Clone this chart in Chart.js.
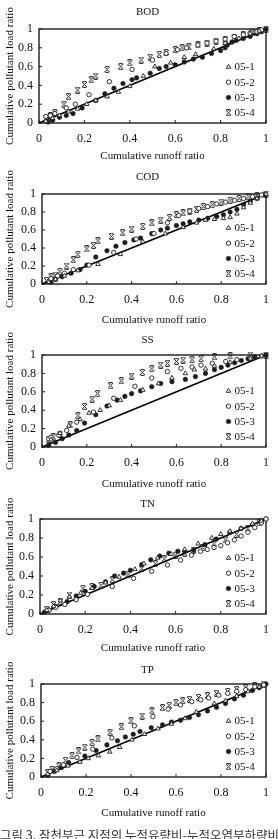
<!DOCTYPE html>
<html>
<head>
<meta charset="utf-8">
<script src="https://cdn.jsdelivr.net/npm/chart.js@4.4.1/dist/chart.umd.min.js"></script>
<style>
  html, body { margin: 0; padding: 0; background: #fff; }
  #page { position: relative; width: 278px; height: 839px; overflow: hidden; }
  #page canvas { position: absolute; left: 0; }
  #caption {
    position: absolute; left: 0; top: 829px;
    font: 12.5px "Noto Sans CJK KR", sans-serif; line-height: 1;
    color: #333; white-space: nowrap;
  }
</style>
</head>
<body>
<div id="page">
  <canvas id="bod" width="278" height="165" style="top:0px"></canvas>
  <canvas id="cod" width="278" height="165" style="top:165px"></canvas>
  <canvas id="ss" width="278" height="165" style="top:330px"></canvas>
  <canvas id="tn" width="278" height="165" style="top:495px"></canvas>
  <canvas id="tp" width="278" height="179" style="top:660px"></canvas>
  <div id="caption">그림 3. 잠천부근 지점의 누적유량비-누적오염부하량비</div>
</div>
<script>
// data: [cumulative runoff ratio, cumulative load ratio]
const seriesLabels = ['05-1', '05-2', '05-3', '05-4'];
const panelNames = ['BOD', 'COD', 'SS', 'TN', 'TP'];
const tickValues = [0, 0.2, 0.4, 0.6, 0.8, 1];
const tickLabels = ['0', '0.2', '0.4', '0.6', '0.8', '1'];
const diagonal = [[0, 0], [1, 1]];

const bod051 = [[0.03,0.02],[0.06,0.05],[0.09,0.08],[0.13,0.12],[0.17,0.15],[0.21,0.20],[0.25,0.24],[0.30,0.28],[0.35,0.33],[0.40,0.39],[0.46,0.50],[0.51,0.60],[0.58,0.64],[0.64,0.70],[0.69,0.73],[0.77,0.79],[0.82,0.85],[0.88,0.90],[0.93,0.95],[0.97,0.98]];
const bod052 = [[0.03,0.07],[0.05,0.08],[0.07,0.10],[0.12,0.16],[0.16,0.20],[0.22,0.30],[0.31,0.44],[0.41,0.57],[0.50,0.67],[0.56,0.74],[0.61,0.78],[0.65,0.80],[0.70,0.83],[0.74,0.85],[0.78,0.87],[0.82,0.89],[0.86,0.92],[0.90,0.94],[0.93,0.96],[0.96,0.97],[0.98,0.99]];
const bod053 = [[0.04,0.01],[0.06,0.03],[0.09,0.06],[0.12,0.08],[0.15,0.10],[0.19,0.16],[0.25,0.24],[0.29,0.31],[0.33,0.37],[0.37,0.42],[0.41,0.46],[0.43,0.48],[0.49,0.53],[0.53,0.58],[0.56,0.60],[0.60,0.62],[0.64,0.65],[0.68,0.68],[0.72,0.70],[0.76,0.74],[0.80,0.77],[0.82,0.80],[0.83,0.83],[0.85,0.86],[0.87,0.88],[0.90,0.90],[0.93,0.92],[0.96,0.95],[0.98,0.97],[1.0,1.0]];
const bod054 = [[0.03,0.05],[0.05,0.08],[0.07,0.11],[0.11,0.20],[0.13,0.28],[0.17,0.35],[0.20,0.41],[0.23,0.46],[0.25,0.50],[0.30,0.57],[0.36,0.60],[0.40,0.64],[0.45,0.67],[0.49,0.70],[0.53,0.73],[0.56,0.75],[0.60,0.78],[0.63,0.80],[0.66,0.81],[0.70,0.83],[0.74,0.85],[0.78,0.87],[0.82,0.89],[0.86,0.91],[0.90,0.94],[0.94,0.96],[0.97,0.98],[1.0,1.0]];

const cod051 = [[0.03,0.02],[0.06,0.05],[0.10,0.09],[0.16,0.15],[0.25,0.22],[0.35,0.33],[0.45,0.47],[0.55,0.56],[0.63,0.63],[0.69,0.68],[0.73,0.71],[0.77,0.72],[0.81,0.73],[0.84,0.74],[0.87,0.78],[0.90,0.85],[0.93,0.90],[0.96,0.95],[1.0,1.0]];
const cod052 = [[0.04,0.06],[0.07,0.09],[0.10,0.12],[0.14,0.16],[0.21,0.21],[0.32,0.35],[0.42,0.50],[0.50,0.56],[0.56,0.68],[0.61,0.76],[0.66,0.81],[0.70,0.84],[0.74,0.86],[0.78,0.89],[0.82,0.91],[0.86,0.93],[0.90,0.95],[0.94,0.97],[0.98,0.99]];
const cod053 = [[0.04,0.02],[0.06,0.05],[0.09,0.08],[0.13,0.12],[0.17,0.16],[0.20,0.21],[0.24,0.30],[0.29,0.37],[0.33,0.42],[0.37,0.46],[0.41,0.49],[0.44,0.51],[0.49,0.56],[0.53,0.60],[0.56,0.62],[0.60,0.65],[0.63,0.67],[0.66,0.69],[0.70,0.71],[0.74,0.73],[0.78,0.75],[0.81,0.77],[0.84,0.80],[0.87,0.83],[0.90,0.88],[0.93,0.92],[0.96,0.95],[0.99,0.99]];
const cod054 = [[0.02,0.04],[0.04,0.08],[0.06,0.10],[0.08,0.14],[0.11,0.20],[0.14,0.27],[0.16,0.33],[0.20,0.39],[0.23,0.43],[0.25,0.48],[0.31,0.53],[0.36,0.57],[0.40,0.61],[0.45,0.64],[0.49,0.68],[0.53,0.71],[0.57,0.74],[0.60,0.77],[0.63,0.79],[0.66,0.81],[0.69,0.83],[0.72,0.86],[0.76,0.88],[0.80,0.91],[0.84,0.93],[0.88,0.95],[0.92,0.97],[0.96,0.98],[1.0,1.0]];

const ss051 = [[0.04,0.08],[0.08,0.15],[0.12,0.23],[0.17,0.30],[0.21,0.37],[0.26,0.40],[0.30,0.45],[0.35,0.51],[0.45,0.62],[0.52,0.69],[0.58,0.75],[0.64,0.80],[0.68,0.84],[0.73,0.85],[0.77,0.88],[0.84,0.92],[0.93,0.96],[0.98,0.99]];
const ss052 = [[0.03,0.09],[0.04,0.105],[0.075,0.13],[0.11,0.18],[0.155,0.27],[0.23,0.38],[0.32,0.53],[0.415,0.66],[0.49,0.75],[0.56,0.82],[0.62,0.855],[0.67,0.87],[0.71,0.89],[0.76,0.91],[0.82,0.93],[0.87,0.95],[0.93,0.97],[0.98,0.99]];
const ss053 = [[0.03,0.02],[0.06,0.05],[0.09,0.09],[0.12,0.13],[0.155,0.18],[0.19,0.26],[0.24,0.35],[0.29,0.445],[0.335,0.51],[0.37,0.55],[0.40,0.58],[0.44,0.61],[0.49,0.655],[0.53,0.69],[0.58,0.71],[0.64,0.735],[0.685,0.765],[0.73,0.80],[0.77,0.84],[0.80,0.865],[0.83,0.89],[0.86,0.915],[0.89,0.94],[0.92,0.96],[0.95,0.98],[1.0,1.0]];
const ss054 = [[0.03,0.08],[0.05,0.11],[0.08,0.14],[0.126,0.24],[0.16,0.34],[0.19,0.44],[0.224,0.52],[0.248,0.58],[0.306,0.666],[0.354,0.72],[0.40,0.77],[0.448,0.81],[0.49,0.85],[0.53,0.89],[0.56,0.91],[0.60,0.93],[0.63,0.945],[0.67,0.95],[0.71,0.96],[0.77,0.98],[0.84,0.99],[0.93,1.0],[1.0,1.0]];

const tn051 = [[0.03,0.04],[0.06,0.08],[0.09,0.14],[0.13,0.18],[0.18,0.22],[0.23,0.27],[0.29,0.33],[0.35,0.39],[0.42,0.47],[0.46,0.53],[0.52,0.59],[0.58,0.63],[0.64,0.68],[0.70,0.74],[0.76,0.80],[0.80,0.84],[0.84,0.87],[0.89,0.90],[0.94,0.95],[0.98,0.98]];
const tn052 = [[0.04,0.04],[0.07,0.07],[0.11,0.10],[0.16,0.15],[0.21,0.207],[0.32,0.29],[0.414,0.375],[0.494,0.45],[0.564,0.516],[0.622,0.568],[0.67,0.62],[0.71,0.66],[0.74,0.68],[0.77,0.70],[0.80,0.72],[0.83,0.75],[0.86,0.78],[0.89,0.82],[0.92,0.86],[0.95,0.91],[0.98,0.96],[1.0,1.0]];
const tn053 = [[0.02,0.02],[0.04,0.04],[0.07,0.08],[0.12,0.13],[0.16,0.19],[0.20,0.24],[0.24,0.29],[0.29,0.34],[0.33,0.40],[0.37,0.43],[0.40,0.46],[0.45,0.52],[0.49,0.57],[0.53,0.61],[0.57,0.64],[0.61,0.66],[0.64,0.66],[0.68,0.67],[0.73,0.73],[0.78,0.79],[0.84,0.86],[0.89,0.90],[0.94,0.94],[0.98,0.98],[1.0,1.0]];
const tn054 = [[0.03,0.05],[0.06,0.10],[0.09,0.13],[0.13,0.20],[0.19,0.27],[0.23,0.29],[0.27,0.30],[0.32,0.36],[0.39,0.42],[0.45,0.48],[0.51,0.53],[0.55,0.58],[0.60,0.62],[0.64,0.64],[0.68,0.67],[0.72,0.70],[0.77,0.74],[0.82,0.78],[0.87,0.84],[0.92,0.90],[0.97,0.96]];

const tp051 = [[0.03,0.03],[0.07,0.07],[0.12,0.12],[0.173,0.16],[0.21,0.20],[0.255,0.23],[0.306,0.27],[0.35,0.32],[0.404,0.40],[0.46,0.46],[0.52,0.52],[0.58,0.57],[0.64,0.63],[0.69,0.70],[0.77,0.79],[0.82,0.82],[0.87,0.87],[0.92,0.92],[0.97,0.97]];
const tp052 = [[0.04,0.06],[0.07,0.09],[0.10,0.13],[0.16,0.21],[0.23,0.30],[0.315,0.42],[0.415,0.55],[0.497,0.65],[0.565,0.73],[0.62,0.775],[0.67,0.81],[0.71,0.83],[0.745,0.85],[0.79,0.88],[0.83,0.90],[0.87,0.92],[0.91,0.94],[0.95,0.97],[0.99,0.99]];
const tp053 = [[0.03,0.02],[0.06,0.06],[0.09,0.10],[0.123,0.155],[0.195,0.225],[0.245,0.285],[0.293,0.345],[0.34,0.39],[0.375,0.43],[0.41,0.46],[0.44,0.49],[0.49,0.53],[0.54,0.56],[0.58,0.59],[0.62,0.61],[0.66,0.64],[0.70,0.67],[0.74,0.71],[0.78,0.75],[0.82,0.79],[0.86,0.84],[0.90,0.88],[0.94,0.93],[0.97,0.96],[1.0,1.0]];
const tp054 = [[0.03,0.05],[0.05,0.08],[0.08,0.12],[0.109,0.18],[0.138,0.23],[0.167,0.28],[0.195,0.32],[0.227,0.37],[0.253,0.41],[0.307,0.48],[0.357,0.54],[0.40,0.605],[0.45,0.655],[0.493,0.71],[0.54,0.745],[0.57,0.77],[0.60,0.80],[0.63,0.82],[0.66,0.835],[0.70,0.855],[0.74,0.875],[0.78,0.90],[0.83,0.92],[0.87,0.94],[0.91,0.96],[0.95,0.98],[0.99,1.0]];

const ink = '#1c1c1c';
const serif = "'Liberation Serif', 'Times New Roman', serif";

// "x" marker with short caps, used for 05-4
function makeXMarker() {
  const c = document.createElement('canvas');
  c.width = 7; c.height = 7;
  const g = c.getContext('2d');
  g.strokeStyle = ink;
  g.lineWidth = 1;
  g.beginPath();
  g.moveTo(1, 1); g.lineTo(6, 6);
  g.moveTo(6, 1); g.lineTo(1, 6);
  g.moveTo(1.5, 0.6); g.lineTo(5.5, 0.6);
  g.moveTo(1.5, 6.4); g.lineTo(5.5, 6.4);
  g.stroke();
  return c;
}

const markerStyles = ['triangle', 'circle', 'circle', makeXMarker()];
const markerRadius = [2.6, 2.2, 2.3, 3.5];
const markerFill = ['#fff', '#fff', ink, ink];
const markerBorder = [0.9, 0.9, 0.5, 0];

// frame, inner ticks, panel title and the legend inside the plot
const decoPlugin = {
  id: 'deco',
  beforeDatasetsDraw(chart, args, opts) {
    const { ctx, chartArea: a, scales } = chart;
    ctx.save();
    ctx.strokeStyle = ink;
    ctx.lineWidth = 1.4;
    ctx.strokeRect(a.left, a.top, a.right - a.left, a.bottom - a.top);
    ctx.lineWidth = 1;
    ctx.beginPath();
    scales.x.ticks.forEach(t => {
      const px = scales.x.getPixelForValue(t.value);
      ctx.moveTo(px, a.bottom); ctx.lineTo(px, a.bottom - 3);
    });
    scales.y.ticks.forEach(t => {
      const py = scales.y.getPixelForValue(t.value);
      ctx.moveTo(a.left, py); ctx.lineTo(a.left + 3, py);
    });
    ctx.stroke();

    ctx.fillStyle = '#111';
    ctx.font = '11px ' + serif;
    ctx.textAlign = 'center';
    ctx.textBaseline = 'middle';
    ctx.fillText(opts.name, opts.titleX, opts.titleY);
    ctx.restore();
  },
  afterDatasetsDraw(chart) {
    const { ctx, chartArea: a } = chart;
    const rows = [56, 40.8, 25.5, 10.2];
    ctx.save();
    ctx.font = '11px ' + serif;
    ctx.textAlign = 'left';
    ctx.textBaseline = 'middle';
    for (let i = 0; i < 4; i++) {
      const ds = chart.data.datasets[i];
      const x = a.right - 37.5;
      const y = a.bottom - rows[i];
      ctx.fillStyle = ds.backgroundColor;
      ctx.strokeStyle = ds.borderColor;
      ctx.lineWidth = ds.borderWidth;
      Chart.helpers.drawPoint(ctx, {
        pointStyle: ds.pointStyle, radius: ds.pointRadius,
        borderWidth: ds.borderWidth, rotation: 0
      }, x, y);
      ctx.fillStyle = '#111';
      ctx.fillText(ds.label, x + 6, y + 0.5);
    }
    ctx.restore();
  }
};

function makeChart(id, name, series, box) {
  const canvas = document.getElementById(id);
  const H = canvas.height;
  const datasets = series.map((pts, i) => ({
    label: seriesLabels[i],
    data: pts.map(p => ({ x: p[0], y: p[1] })),
    pointStyle: markerStyles[i],
    pointRadius: markerRadius[i],
    backgroundColor: markerFill[i],
    borderColor: ink,
    borderWidth: markerBorder[i],
    clip: false,
    order: 1
  }));
  datasets.push({
    type: 'line',
    label: 'diagonal',
    data: diagonal.map(p => ({ x: p[0], y: p[1] })),
    borderColor: '#000',
    borderWidth: 1.6,
    pointRadius: 0,
    showLine: true,
    clip: false,
    order: 5
  });

  const tickFont = { family: serif, size: 12 };
  const titleFont = { family: serif, size: 11 };

  return new Chart(canvas.getContext('2d'), {
    type: 'scatter',
    data: { datasets },
    plugins: [decoPlugin],
    options: {
      responsive: false,
      animation: false,
      events: [],
      layout: { padding: { top: box.top, left: 0, right: 278 - box.right, bottom: 0 } },
      plugins: {
        legend: { display: false },
        tooltip: { enabled: false },
        deco: { name: name, titleX: 147.5, titleY: box.titleY }
      },
      scales: {
        x: {
          type: 'linear', min: 0, max: 1,
          afterBuildTicks: s => { s.ticks = tickValues.map(v => ({ value: v })); },
          afterFit: s => { s.height = H - box.bottom; },
          ticks: { font: tickFont, color: '#111', padding: 9, maxRotation: 0, autoSkip: false,
                   callback: (v, i) => tickLabels[i] },
          grid: { display: false, drawTicks: false },
          border: { display: false },
          title: { display: true, text: 'Cumulative runoff ratio', font: titleFont, color: '#111',
                   padding: { top: 0, bottom: H - box.bottom - box.xTitleGap - 6.6 } }
        },
        y: {
          type: 'linear', min: 0, max: 1,
          afterBuildTicks: s => { s.ticks = tickValues.map(v => ({ value: v })); },
          afterFit: s => { s.width = box.left; },
          ticks: { font: tickFont, color: '#111', padding: 6, autoSkip: false,
                   callback: (v, i) => tickLabels[i] },
          grid: { display: false, drawTicks: false },
          border: { display: false },
          title: { display: true, text: 'Cumulative pollutant load ratio', font: titleFont, color: '#111',
                   padding: { top: 3.4, bottom: 0 } }
        }
      }
    }
  });
}

const boxes = [
  { top: 29, bottom: 123, left: 39, right: 269, titleY: 12, xTitleGap: 33.5 },
  { top: 29, bottom: 119, left: 42, right: 273, titleY: 12, xTitleGap: 36 },
  { top: 25, bottom: 117, left: 42, right: 273, titleY: 10, xTitleGap: 37 },
  { top: 24, bottom: 119, left: 40, right: 269, titleY: 9, xTitleGap: 34.5 },
  { top: 24, bottom: 117, left: 41, right: 273, titleY: 10, xTitleGap: 36 }
];

makeChart('bod', panelNames[0], [bod051, bod052, bod053, bod054], boxes[0]);
makeChart('cod', panelNames[1], [cod051, cod052, cod053, cod054], boxes[1]);
makeChart('ss', panelNames[2], [ss051, ss052, ss053, ss054], boxes[2]);
makeChart('tn', panelNames[3], [tn051, tn052, tn053, tn054], boxes[3]);
makeChart('tp', panelNames[4], [tp051, tp052, tp053, tp054], boxes[4]);
</script>
</body>
</html>
